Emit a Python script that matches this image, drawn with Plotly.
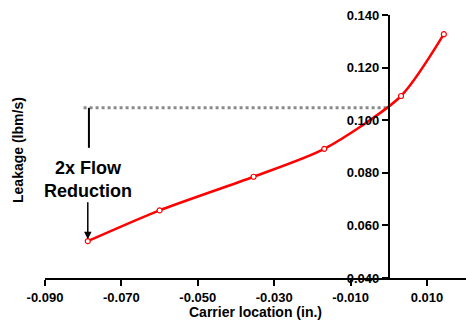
import plotly.graph_objects as go

# Data
carrier_location = [-0.0788, -0.0600, -0.0354, -0.0169, 0.0032, 0.0144]
leakage = [0.0540, 0.0657, 0.0785, 0.0891, 0.1092, 0.1327]
ref_level = 0.1047          # leakage level that is 2x the minimum
ref_x_start = -0.0799
ref_x_end = 0.0

x_tickvals = [-0.090, -0.070, -0.050, -0.030, -0.010, 0.010]
x_ticktext = ["-0.090", "-0.070", "-0.050", "-0.030", "-0.010", "0.010"]
y_tickvals = [0.040, 0.060, 0.080, 0.100, 0.120, 0.140]
y_ticktext = ["0.040", "0.060", "0.080", "0.100", "0.120", "0.140"]

X_RANGE = [-0.090, 0.0202]
Y_RANGE = [0.040, 0.140]

FONT = "Liberation Sans, Arial, Helvetica, sans-serif"

fig = go.Figure()

# dotted reference line
fig.add_trace(go.Scatter(
    x=[ref_x_start, ref_x_end], y=[ref_level, ref_level],
    mode="lines", line=dict(color="#8a8a8a", width=3, dash="3px,3px"),
    hoverinfo="skip", showlegend=False,
))

fig.add_trace(go.Scatter(
    x=carrier_location, y=leakage,
    mode="lines+markers",
    line=dict(color="#ff0000", width=2.5, shape="spline", smoothing=0.7),
    marker=dict(symbol="circle", size=5, color="white",
                line=dict(color="#ff0000", width=1.2)),
    showlegend=False,
))

# vertical line from reference level down toward label
fig.add_shape(type="line", xref="x", yref="y",
              x0=-0.0785, x1=-0.0785, y0=ref_level, y1=0.0895,
              line=dict(color="black", width=2))

fig.add_annotation(
    x=carrier_location[0], y=leakage[0], xref="x", yref="y",
    text="<b>2x Flow<br>Reduction</b>",
    font=dict(family=FONT, size=18, color="black"),
    showarrow=True, arrowhead=2, arrowsize=1, arrowwidth=1.5,
    arrowcolor="black", ax=0, ay=-62, standoff=2,
)

xpos = (0 - X_RANGE[0]) / (X_RANGE[1] - X_RANGE[0])

fig.update_layout(
    template="none",
    width=466, height=325,
    margin=dict(l=45, r=0, t=15, b=47, autoexpand=False),
    paper_bgcolor="white", plot_bgcolor="white",
    font=dict(family=FONT, color="black"),
    xaxis=dict(
        range=X_RANGE, showgrid=False, zeroline=False, automargin=False,
        showline=True, linecolor="black", linewidth=2,
        ticks="outside", ticklen=6, tickwidth=2, tickcolor="black",
        tickvals=x_tickvals, ticktext=x_ticktext,
        tickfont=dict(family=FONT, size=13, color="black", weight="bold"),
    ),
    yaxis=dict(
        range=Y_RANGE, showgrid=False, zeroline=False, automargin=False,
        anchor="free", position=xpos,
        showline=True, linecolor="black", linewidth=2,
        ticks="outside", ticklen=6, tickwidth=2, tickcolor="black",
        tickvals=y_tickvals, ticktext=y_ticktext,
        tickfont=dict(family=FONT, size=13, color="black", weight="bold"),
    ),
    annotations=list(fig.layout.annotations) + [
        dict(text="<b>Carrier location (in.)</b>", xref="paper", yref="paper",
             x=0.499, y=-0.128, xanchor="center", yanchor="middle",
             showarrow=False, font=dict(family=FONT, size=14, color="black")),
        dict(text="<b>Leakage (lbm/s)</b>", xref="paper", yref="paper",
             x=-0.064, y=0.487, xanchor="center", yanchor="middle",
             textangle=-90, showarrow=False,
             font=dict(family=FONT, size=14, color="black")),
    ],
)

fig.write_html("out.html",
               config={"displayModeBar": False},
               post_script="document.body.style.margin='0';document.body.style.overflow='hidden';")
